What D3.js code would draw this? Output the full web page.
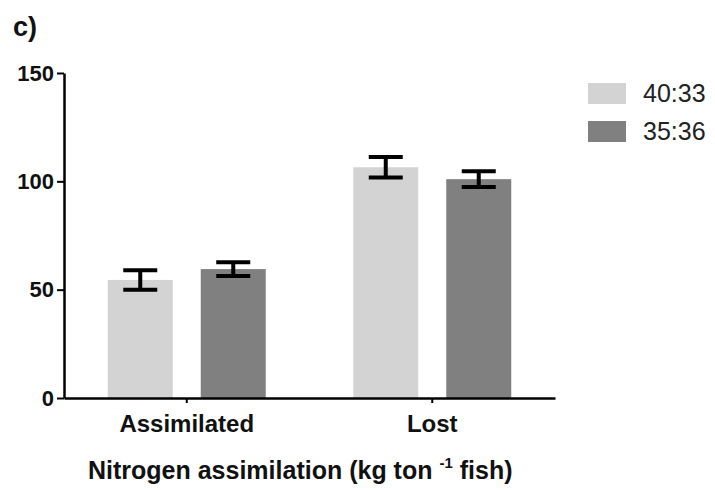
<!DOCTYPE html>
<html>
<head>
<meta charset="utf-8">
<script src="https://cdn.jsdelivr.net/npm/d3@7"></script>
<style>
  html, body { margin: 0; padding: 0; background: #fff; }
  svg { display: block; font-family: "Liberation Sans", Arial, sans-serif; }
</style>
</head>
<body>
<svg id="chart" width="715" height="490"></svg>
<script>
// Data (mean ± SD)
const categories = ['Assimilated', 'Lost'];
const series = ['40:33', '35:36'];
const means = [[54.5, 106.5], [59.5, 101]];   // per series, per category
const errors = [[4.5, 4.7], [3.2, 3.6]];
const yTicks = [0, 50, 100, 150];
const colours = ['#d3d3d3', '#808080'];

const svg = d3.select('#chart');
const plotLeft = 64, plotRight = 555, plotTop = 73, plotBottom = 398;

const y = d3.scaleLinear().domain([0, 150]).range([plotBottom, plotTop]);
const x0 = d3.scaleBand().domain(categories).range([plotLeft, plotRight])
  .paddingInner(0.3564).paddingOuter(0.1782);
const x1 = d3.scaleBand().domain(series).range([0, x0.bandwidth()])
  .paddingInner(0.301).paddingOuter(0);

// Flatten to bar records
const bars = [];
series.forEach((s, si) => categories.forEach((c, ci) => {
  bars.push({ s, si, c, mean: means[si][ci], err: errors[si][ci] });
}));

// Bars
svg.append('g').selectAll('rect')
  .data(bars).enter().append('rect')
  .attr('x', d => x0(d.c) + x1(d.s))
  .attr('y', d => y(d.mean))
  .attr('width', x1.bandwidth())
  .attr('height', d => y(0) - y(d.mean))
  .attr('fill', d => colours[d.si]);

// Error bars
const eb = svg.append('g').selectAll('g')
  .data(bars).enter().append('g')
  .attr('transform', d => `translate(${x0(d.c) + x1(d.s) + x1.bandwidth() / 2},0)`)
  .attr('stroke', '#000');
eb.append('line')
  .attr('y1', d => y(d.mean + d.err)).attr('y2', d => y(d.mean - d.err))
  .attr('stroke-width', 4);
eb.append('line')
  .attr('x1', -17).attr('x2', 17)
  .attr('y1', d => y(d.mean + d.err)).attr('y2', d => y(d.mean + d.err))
  .attr('stroke-width', 4);
eb.append('line')
  .attr('x1', -17).attr('x2', 17)
  .attr('y1', d => y(d.mean - d.err)).attr('y2', d => y(d.mean - d.err))
  .attr('stroke-width', 4);

// Y axis
const yAxis = svg.append('g')
  .attr('transform', `translate(${plotLeft},0)`)
  .call(d3.axisLeft(y).tickValues(yTicks).tickSize(7).tickPadding(3).tickSizeOuter(0));
yAxis.select('.domain').attr('stroke-width', 2.5);
yAxis.selectAll('.tick line').attr('stroke-width', 2);
yAxis.selectAll('.tick text')
  .attr('font-size', 22).attr('font-weight', 'bold')
  .attr('font-family', '"Liberation Sans", Arial, sans-serif').attr('fill', '#111');

// X axis
const xAxis = svg.append('g')
  .attr('transform', `translate(0,${plotBottom})`)
  .call(d3.axisBottom(x0).tickSize(5).tickPadding(12).tickSizeOuter(0));
xAxis.select('.domain').attr('stroke-width', 2.5);
xAxis.selectAll('.tick line').attr('stroke-width', 2);
xAxis.selectAll('.tick text')
  .attr('font-size', 24).attr('font-weight', 'bold')
  .attr('font-family', '"Liberation Sans", Arial, sans-serif').attr('fill', '#111');

// X title with superscript
const title = svg.append('text')
  .attr('x', 88).attr('y', 479)
  .attr('font-size', 25).attr('font-weight', 'bold').attr('fill', '#111');
title.append('tspan').text('Nitrogen assimilation (kg ton ');
title.append('tspan').text('-1').attr('font-size', 15).attr('dy', -11);
title.append('tspan').text(' fish)').attr('dy', 11);

// Panel label
svg.append('text')
  .attr('x', 13).attr('y', 36)
  .attr('font-size', 27).attr('font-weight', 'bold').attr('fill', '#111')
  .text('c)');

// Legend
const lg = svg.append('g').selectAll('g')
  .data(series).enter().append('g')
  .attr('transform', (d, i) => `translate(588,${83 + i * 38})`);
lg.append('rect')
  .attr('width', 38).attr('height', 21)
  .attr('fill', (d, i) => colours[i]);
lg.append('text')
  .attr('x', 55).attr('y', 19)
  .attr('font-size', 25).attr('fill', '#222')
  .text(d => d);
</script>
</body>
</html>
